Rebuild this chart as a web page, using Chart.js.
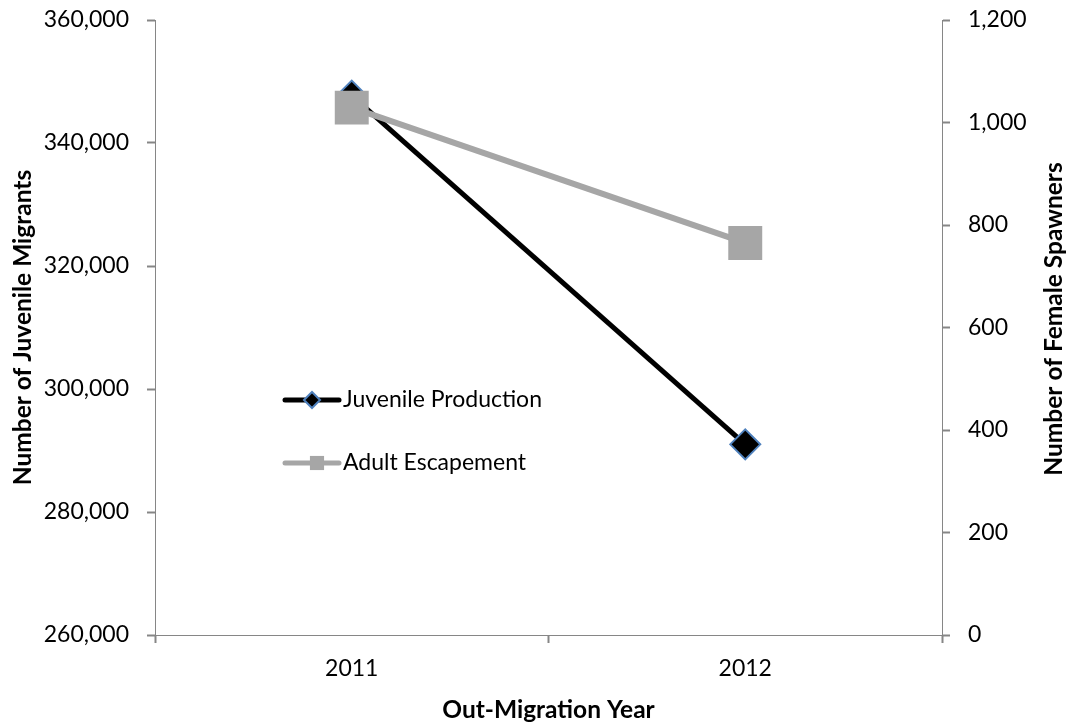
<!DOCTYPE html>
<html>
<head>
<meta charset="utf-8">
<title>Juvenile Production vs Adult Escapement</title>
<script src="https://cdn.jsdelivr.net/npm/chart.js@4.4.0/dist/chart.umd.min.js"></script>
<style>
    html, body { margin: 0; padding: 0; background: #fff; }
    #wrap { width: 1068px; height: 726px; }
</style>
</head>
<body>
<div id="wrap"><canvas id="myChart" width="1068" height="726"></canvas></div>
<script>
// Data
const years = ['2011', '2012'];
const juvenile = [347700, 291000];
const adult = [1029, 765];
const juvenileTicks = [260000, 280000, 300000, 320000, 340000, 360000];
const spawnerTicks = [0, 200, 400, 600, 800, 1000, 1200];

const axisGray = '#868686';
const adultGray = '#A6A6A6';
const markerBlue = '#4F81BD';
const fontFamily = 'Lato, "Open Sans", sans-serif';

const fmt = v => Number(v).toLocaleString('en-US');

// keep the plot box fixed: no extra room for half-labels
const noPad = s => { s.paddingTop = 0; s.paddingBottom = 0; s.paddingLeft = 0; s.paddingRight = 0; };

// Axis titles + in-plot legend, drawn by hand
const extras = {
    id: 'extras',
    afterDraw(chart) {
        const ctx = chart.ctx;
        const area = chart.chartArea;
        ctx.save();
        ctx.fillStyle = '#000';
        ctx.font = 'bold 24.5px ' + fontFamily;
        ctx.textAlign = 'center';
        ctx.textBaseline = 'middle';

        ctx.fillText('Out-Migration Year', (area.left + area.right) / 2, 710);

        ctx.save();
        ctx.translate(23, (area.top + area.bottom) / 2);
        ctx.rotate(-Math.PI / 2);
        ctx.fillText('Number of Juvenile Migrants', 0, 0);
        ctx.restore();

        ctx.save();
        ctx.translate(1054, 319);
        ctx.rotate(-Math.PI / 2);
        ctx.fillText('Number of Female Spawners', 0, 0);
        ctx.restore();

        // legend
        const items = [
            { label: chart.data.datasets[0].label, y: 400, line: '#000', lw: 5,
              pt: { pointStyle: 'rectRot', radius: 8, borderWidth: 2 }, fill: '#000', stroke: markerBlue, px: 312 },
            { label: chart.data.datasets[1].label, y: 463, line: adultGray, lw: 5,
              pt: { pointStyle: 'rect', radius: 10, borderWidth: 0 }, fill: adultGray, stroke: adultGray, px: 317 }
        ];
        ctx.font = '23px ' + fontFamily;
        ctx.textAlign = 'left';
        items.forEach(it => {
            ctx.strokeStyle = it.line;
            ctx.lineWidth = it.lw;
            ctx.lineCap = 'round';
            ctx.beginPath();
            ctx.moveTo(285, it.y);
            ctx.lineTo(339, it.y);
            ctx.stroke();
            ctx.fillStyle = it.fill;
            ctx.strokeStyle = it.stroke;
            ctx.lineWidth = it.pt.borderWidth;
            Chart.helpers.drawPoint(ctx, it.pt, it.px, it.y);
            ctx.fillStyle = '#000';
            ctx.fillText(it.label, 343, it.y);
        });
        ctx.restore();
    }
};

function draw() {
    const ctx = document.getElementById('myChart').getContext('2d');
    new Chart(ctx, {
        type: 'line',
        data: {
            labels: years,
            datasets: [
                {
                    label: 'Juvenile Production',
                    data: juvenile,
                    yAxisID: 'y',
                    order: 2,
                    borderColor: '#000',
                    borderWidth: 5,
                    pointStyle: 'rectRot',
                    pointRadius: 15,
                    pointBackgroundColor: '#000',
                    pointBorderColor: markerBlue,
                    pointBorderWidth: 2,
                    tension: 0
                },
                {
                    label: 'Adult Escapement',
                    data: adult,
                    yAxisID: 'y1',
                    order: 1,
                    borderColor: adultGray,
                    borderWidth: 6,
                    pointStyle: 'rect',
                    pointRadius: 24,
                    pointBackgroundColor: adultGray,
                    pointBorderColor: adultGray,
                    pointBorderWidth: 0,
                    tension: 0
                }
            ]
        },
        options: {
            responsive: false,
            animation: false,
            layout: { autoPadding: false, padding: { top: 20, left: 0, right: 0, bottom: 0 } },
            plugins: { legend: { display: false }, tooltip: { enabled: false } },
            scales: {
                x: {
                    offset: true,
                    grid: { offset: true, drawOnChartArea: false, color: axisGray, tickLength: 8, tickWidth: 2 },
                    border: { color: axisGray, width: 1 },
                    ticks: { color: '#000', font: { family: fontFamily, size: 23 }, padding: 12 },
                    afterFit: s => { noPad(s); s.height = 91; }
                },
                y: {
                    position: 'left',
                    min: juvenileTicks[0],
                    max: juvenileTicks[juvenileTicks.length - 1],
                    afterBuildTicks: s => { s.ticks = juvenileTicks.map(v => ({ value: v })); },
                    grid: { drawOnChartArea: false, color: axisGray, tickLength: 8, tickWidth: 2 },
                    border: { color: axisGray, width: 1 },
                    ticks: { color: '#000', font: { family: fontFamily, size: 23 }, padding: 18, callback: v => fmt(v) },
                    afterFit: s => { noPad(s); s.width = 155; }
                },
                y1: {
                    position: 'right',
                    min: spawnerTicks[0],
                    max: spawnerTicks[spawnerTicks.length - 1],
                    afterBuildTicks: s => { s.ticks = spawnerTicks.map(v => ({ value: v })); },
                    grid: { drawOnChartArea: false, color: axisGray, tickLength: 8, tickWidth: 2 },
                    border: { color: axisGray, width: 1 },
                    ticks: { color: '#000', font: { family: fontFamily, size: 23 }, padding: 18, callback: v => fmt(v) },
                    afterFit: s => { noPad(s); s.width = 126; }
                }
            }
        },
        plugins: [extras]
    });
}

Promise.all([
    document.fonts.load('23px Lato'),
    document.fonts.load('bold 24.5px Lato')
]).then(draw, draw);
</script>
</body>
</html>
